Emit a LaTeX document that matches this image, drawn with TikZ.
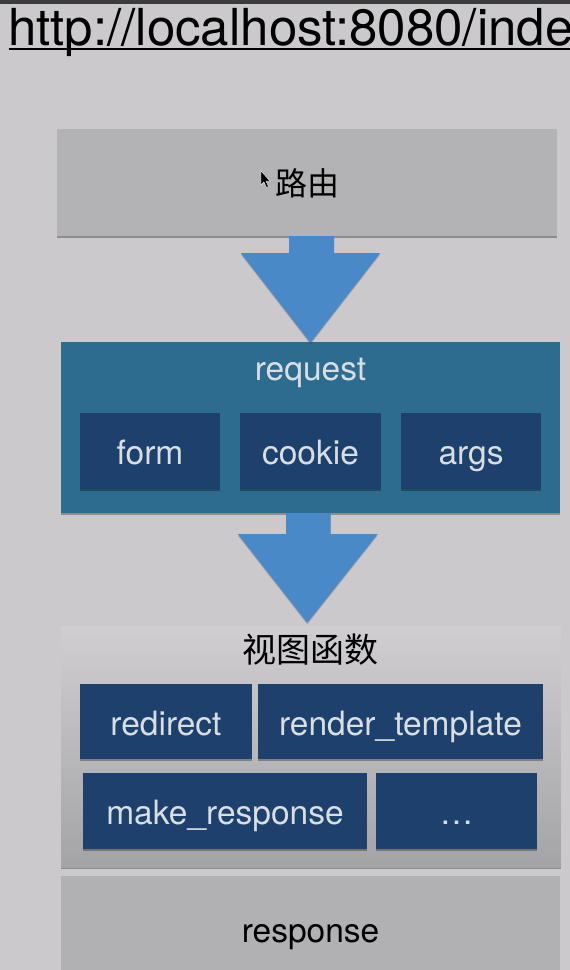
\documentclass[tikz,border=0pt]{standalone}
\usepackage{fontspec}
\setmainfont{TeX Gyre Heros}
\newfontfamily\cjk{Noto Sans CJK SC}
\usetikzlibrary{shadows,calc}
\definecolor{bgc}{HTML}{CBC9CC}
\definecolor{topbar}{HTML}{3C3C3C}
\definecolor{routec}{HTML}{B3B2B4}
\definecolor{reqc}{HTML}{2D6B8F}
\definecolor{innerc}{HTML}{1D416C}
\definecolor{lighttext}{HTML}{D9DEE2}
\definecolor{arrowc}{HTML}{4A89C7}
\definecolor{respc}{HTML}{B1B0B3}
\definecolor{viewtop}{HTML}{D0CED1}
\definecolor{viewbot}{HTML}{A4A3A5}
\tikzset{
  softshadow/.style={drop shadow={shadow xshift=0pt,shadow yshift=-2pt,opacity=.3,fill=black}},
  bigbox/.style={rectangle,inner sep=0pt,softshadow},
  innerbox/.style={rectangle,inner sep=0pt,fill=innerc,text=lighttext,font=\fontsize{33.5}{40}\selectfont,
     text height=27pt,text depth=0pt,softshadow},
  barrow/.style={fill=arrowc,drop shadow={shadow xshift=0pt,shadow yshift=-1.5pt,opacity=.2,fill=black}},
}
\begin{document}
\begin{tikzpicture}[x=1pt,y=-1pt]
\useasboundingbox (0,0) rectangle (570,970);
\clip (0,0) rectangle (570,970);
\fill[bgc] (0,0) rectangle (570,970);
\fill[topbar] (0,0) rectangle (570,4);
% URL
\node[anchor=base west,inner sep=0pt,font=\fontsize{51}{58}\selectfont] (url) at (8,45) {http://localhost:8080/inde};
\draw[line width=2.5pt] (9,49) -- (570,49);
% route box
\node[bigbox,fill=routec,minimum width=500pt,minimum height=107pt] (route) at (307,182.5) {};
\node[font=\cjk\fontsize{32}{38}\selectfont,inner sep=0pt] (routet) at (307,183) {路由};
% cursor
\filldraw[fill=black,draw=white,line width=0.4pt] (261,171) -- (261,185) -- (264,182) -- (266.5,187.5) -- (268.5,186.5) -- (266,181) -- (270,181) -- cycle;
% request box
\node[bigbox,fill=reqc,minimum width=499pt,minimum height=171pt] (req) at (310.5,427.5) {};
\node[anchor=base,inner sep=0pt,text=lighttext,font=\fontsize{33.5}{40}\selectfont] (reqt) at (310.5,380) {request};
\node[innerbox,minimum width=140pt,minimum height=76pt] (form) at (150,451) {form};
\node[innerbox,minimum width=141pt,minimum height=76pt] (cookie) at (310.5,451) {cookie};
\node[innerbox,minimum width=140pt,minimum height=76pt] (args) at (471,451) {args};
% view box
\node[bigbox,top color=viewtop,bottom color=viewbot,minimum width=499.5pt,minimum height=241pt] (view) at (310.75,746.5) {};
\node[font=\cjk\fontsize{34}{40}\selectfont,inner sep=0pt] (viewt) at (310.5,650) {视图函数};
\node[innerbox,minimum width=172pt,minimum height=75pt] (redirect) at (166,721.5) {redirect};
\node[innerbox,minimum width=285pt,minimum height=75pt] (render) at (400.5,721.5) {render\_template};
\node[innerbox,minimum width=284pt,minimum height=76pt] (make) at (225,811) {make\_response};
\node[innerbox,minimum width=161pt,minimum height=76pt] (dots) at (456.5,811) {\dots};
% response box
\node[bigbox,fill=respc,minimum width=499pt,minimum height=110pt,anchor=north] (resp) at (310.5,876) {};
\node[anchor=base,inner sep=0pt,font=\fontsize{33.5}{40}\selectfont] (respt) at (310.5,942) {response};
% block arrows
\fill[barrow] ($(route.south)+(-18,0)$) -- ($(route.south)+(27,0)$) -- ($(route.south)+(27,17)$)
   -- ($(route.south)+(73,17)$) -- ($(req.north)+(0,1)$) -- ($(route.south)+(-66,17)$) -- ($(route.south)+(-18,17)$) -- cycle;
\fill[barrow] ($(req.south)+(-24.5,0)$) -- ($(req.south)+(20,0)$) -- ($(req.south)+(20,21)$)
   -- ($(req.south)+(67,21)$) -- ($(view.north)+(-3.5,-3)$) -- ($(req.south)+(-72.5,21)$) -- ($(req.south)+(-24.5,21)$) -- cycle;
\end{tikzpicture}
\end{document}
